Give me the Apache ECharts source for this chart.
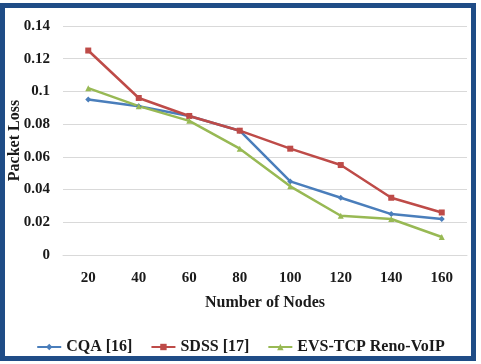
<!DOCTYPE html>
<html>
<head>
<meta charset="utf-8">
<script src="https://cdn.jsdelivr.net/npm/echarts@6/dist/echarts.min.js"></script>
<style>
html, body { margin: 0; padding: 0; background: #fff; }
#myChart { width: 481px; height: 364px; }
</style>
</head>
<body>
<div id="myChart"></div>
<script>
var nodes = ['20', '40', '60', '80', '100', '120', '140', '160'];
var cqa = [0.095, 0.091, 0.085, 0.076, 0.045, 0.035, 0.025, 0.022];
var sdss = [0.125, 0.096, 0.085, 0.076, 0.065, 0.055, 0.035, 0.026];
var evs = [0.102, 0.091, 0.082, 0.065, 0.042, 0.024, 0.022, 0.011];
var seriesNames = ['CQA [16]', 'SDSS [17]', 'EVS-TCP Reno-VoIP'];

var font = 'Liberation Serif';
var myChart = echarts.init(document.getElementById('myChart'));

function line(name, data, color, symbol) {
	return {
		name: name,
		type: 'line',
		data: data,
		symbol: symbol,
		symbolSize: 6,
		lineStyle: { width: 2.5, color: color },
		itemStyle: { color: color },
		emphasis: { disabled: true }
	};
}

myChart.setOption({
	animation: false,
	graphic: [{
		type: 'rect',
		shape: { x: 2.5, y: 5.5, width: 471, height: 353 },
		style: { fill: 'none', stroke: '#1f4c86', lineWidth: 5 },
		z: 100
	}],
	grid: { left: 63, right: 14, top: 26, bottom: 109, containLabel: false, outerBoundsMode: 'none' },
	legend: {
		bottom: 4,
		left: 'center',
		itemWidth: 24,
		itemHeight: 8,
		itemGap: 18,
		textStyle: { fontFamily: font, fontWeight: 'bold', fontSize: 16, color: '#1a1a1a' },
		data: seriesNames
	},
	xAxis: {
		type: 'category',
		data: nodes,
		name: 'Number of Nodes',
		nameLocation: 'middle',
		nameMoveOverlap: false,
		nameGap: 40,
		nameTextStyle: { fontFamily: font, fontWeight: 'bold', fontSize: 16, color: '#1a1a1a' },
		axisLine: { lineStyle: { color: '#d9d9d9' } },
		axisTick: { show: false },
		axisLabel: { fontFamily: font, fontWeight: 'bold', fontSize: 15, color: '#1a1a1a', margin: 16 }
	},
	yAxis: {
		type: 'value',
		min: 0,
		max: 0.14,
		interval: 0.02,
		name: 'Packet Loss',
		nameLocation: 'middle',
		nameMoveOverlap: false,
		nameGap: 40,
		nameTextStyle: { fontFamily: font, fontWeight: 'bold', fontSize: 16, color: '#1a1a1a' },
		axisLine: { show: false },
		axisTick: { show: false },
		splitLine: { lineStyle: { color: '#d9d9d9' } },
		axisLabel: {
			fontFamily: font, fontWeight: 'bold', fontSize: 15, color: '#1a1a1a', margin: 13,
			formatter: function (v) { return String(parseFloat(v.toFixed(2))); }
		}
	},
	series: [
		line(seriesNames[0], cqa, '#4a7ebb', 'diamond'),
		line(seriesNames[1], sdss, '#be4b48', 'rect'),
		line(seriesNames[2], evs, '#98b954', 'triangle')
	]
});
</script>
</body>
</html>
